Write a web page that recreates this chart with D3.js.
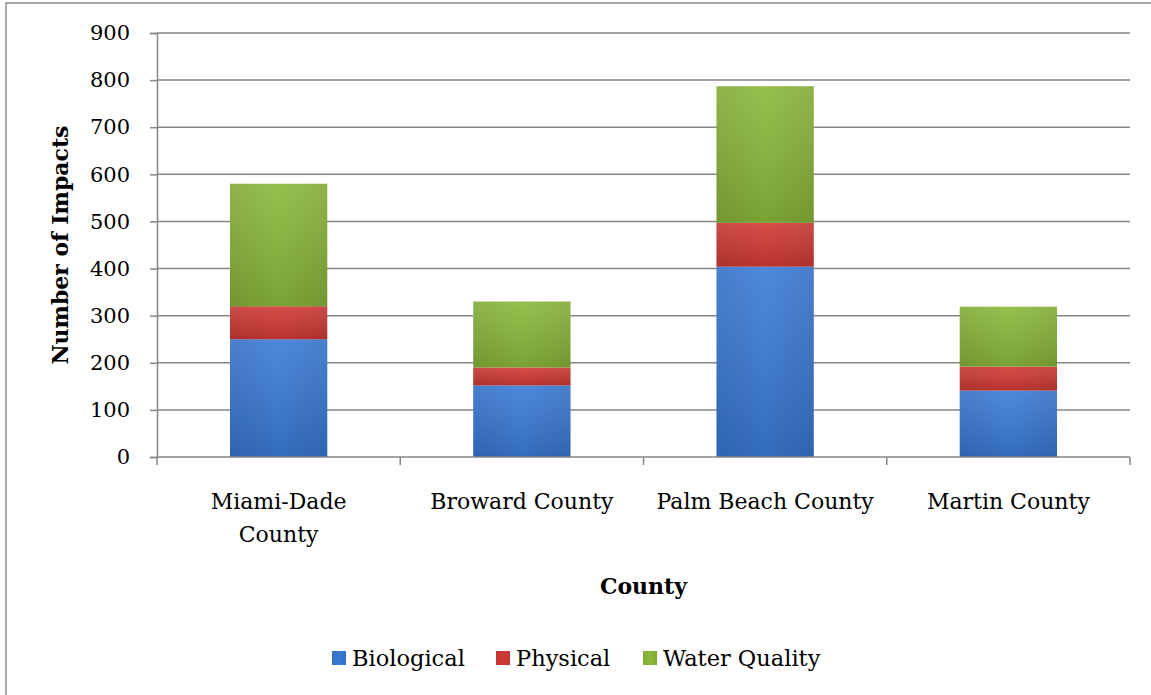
<!DOCTYPE html>
<html><head><meta charset="utf-8">
<script src="https://cdn.jsdelivr.net/npm/d3@7/dist/d3.min.js"></script>
<style>body{margin:0;background:#fff}svg{display:block}text{font-family:"DejaVu Serif","Liberation Serif",serif;fill:#000}</style>
</head><body>
<svg id="c" width="1151" height="695"></svg>
<script>
const categories = [["Miami-Dade","County"],["Broward County"],["Palm Beach County"],["Martin County"]];
const seriesNames = ["Biological","Physical","Water Quality"];
const biological = [250, 152, 404, 141];
const physical = [70, 38, 93, 51];
const waterQuality = [260, 140, 290, 127];
const yTicks = [0,100,200,300,400,500,600,700,800,900];
const colors = ["#3a7bd5","#d13a35","#8bb83b"];
const darks = ["#2c5fab","#a8302b","#6e9330"];

const svg = d3.select("#c");
const m = {l:157, r:1130, t:33, b:457};
const keys = categories.map((c,i)=>i);
const x = d3.scaleBand().domain(keys).range([m.l,m.r]).paddingInner(0.6).paddingOuter(0.3);
const y = d3.scaleLinear().domain([0,900]).range([m.b,m.t]);

// frame
svg.append("rect").attr("x",6).attr("y",3).attr("width",1160).attr("height",710)
  .attr("fill","none").attr("stroke","#8c8c8c").attr("stroke-width",1.5);

// gradients
const defs = svg.append("defs");
colors.forEach((c,i)=>{
  const g = defs.append("linearGradient").attr("id","g"+i).attr("x1","0").attr("x2","1").attr("y1","0").attr("y2","0");
  g.append("stop").attr("offset","0").attr("stop-color",d3.interpolateRgb(c,darks[i])(0.35));
  g.append("stop").attr("offset","0.5").attr("stop-color",c);
  g.append("stop").attr("offset","1").attr("stop-color",d3.interpolateRgb(c,darks[i])(0.35));
  const v = defs.append("linearGradient").attr("id","v"+i).attr("x1","0").attr("x2","0").attr("y1","0").attr("y2","1");
  v.append("stop").attr("offset","0").attr("stop-color","#fff").attr("stop-opacity",0.1);
  v.append("stop").attr("offset","1").attr("stop-color","#000").attr("stop-opacity",0.12);
});

// gridlines
svg.append("g").selectAll("line").data(yTicks.filter(d=>d>0)).join("line")
  .attr("x1",m.l).attr("x2",m.r).attr("y1",d=>y(d)).attr("y2",d=>y(d))
  .attr("stroke","#868686").attr("stroke-width",1.5);

// y axis
const ya = svg.append("g").attr("transform",`translate(${m.l},0)`)
  .call(d3.axisLeft(y).tickValues(yTicks).tickSize(7).tickPadding(20).tickFormat(d3.format("d")));
ya.select(".domain").attr("stroke","#868686").attr("stroke-width",1.5);
ya.selectAll(".tick line").attr("stroke","#868686").attr("stroke-width",1.5);
ya.selectAll(".tick text").style("font-family","DejaVu Serif").style("font-size","21px").attr("fill","#000");

// stacked bars
const table = keys.map(i=>({i, Biological:biological[i], Physical:physical[i], "Water Quality":waterQuality[i]}));
const stack = d3.stack().keys(seriesNames)(table);
const bars = svg.append("g");
stack.forEach((s,si)=>{
  const g = bars.append("g");
  g.selectAll("rect.a").data(s).join("rect").attr("class","a")
    .attr("x",d=>x(d.data.i)).attr("width",x.bandwidth())
    .attr("y",d=>y(d[1])).attr("height",d=>y(d[0])-y(d[1]))
    .attr("fill",`url(#g${si})`);
  g.selectAll("rect.b").data(s).join("rect").attr("class","b")
    .attr("x",d=>x(d.data.i)).attr("width",x.bandwidth())
    .attr("y",d=>y(d[1])).attr("height",d=>y(d[0])-y(d[1]))
    .attr("fill",`url(#v${si})`);
});

// x axis
svg.append("line").attr("x1",m.l).attr("x2",m.r).attr("y1",m.b).attr("y2",m.b)
  .attr("stroke","#868686").attr("stroke-width",1.5);
const bounds = keys.map(i=>x(i)-x.step()*x.paddingInner()/2).concat([m.r]);
svg.append("g").selectAll("line").data(bounds).join("line")
  .attr("x1",d=>d).attr("x2",d=>d).attr("y1",m.b).attr("y2",m.b+8)
  .attr("stroke","#868686").attr("stroke-width",1.5);
const xl = svg.append("g");
categories.forEach((lines,i)=>{
  const t = xl.append("text").attr("x",x(i)+x.bandwidth()/2).attr("y",509)
    .attr("text-anchor","middle").style("font-size","22px");
  lines.forEach((ln,j)=>t.append("tspan").attr("x",x(i)+x.bandwidth()/2).attr("dy",j?33:0).text(ln));
});

// titles
svg.append("text").attr("x",(m.l+m.r)/2+0).attr("y",594).attr("text-anchor","middle")
  .style("font-size","22px").style("font-weight","bold").text("County");
svg.append("text").attr("transform",`translate(68,${(m.t+m.b)/2}) rotate(-90)`).attr("text-anchor","middle")
  .style("font-size","22px").style("font-weight","bold").text("Number of Impacts");

// legend
const leg = svg.append("g");
const legX = [332,496,643];
seriesNames.forEach((n,i)=>{
  leg.append("rect").attr("x",legX[i]).attr("y",651).attr("width",14).attr("height",14).attr("fill",`url(#g${i})`);
  leg.append("text").attr("x",legX[i]+20).attr("y",666).style("font-size","22.5px").text(n);
});
</script>
</body></html>
